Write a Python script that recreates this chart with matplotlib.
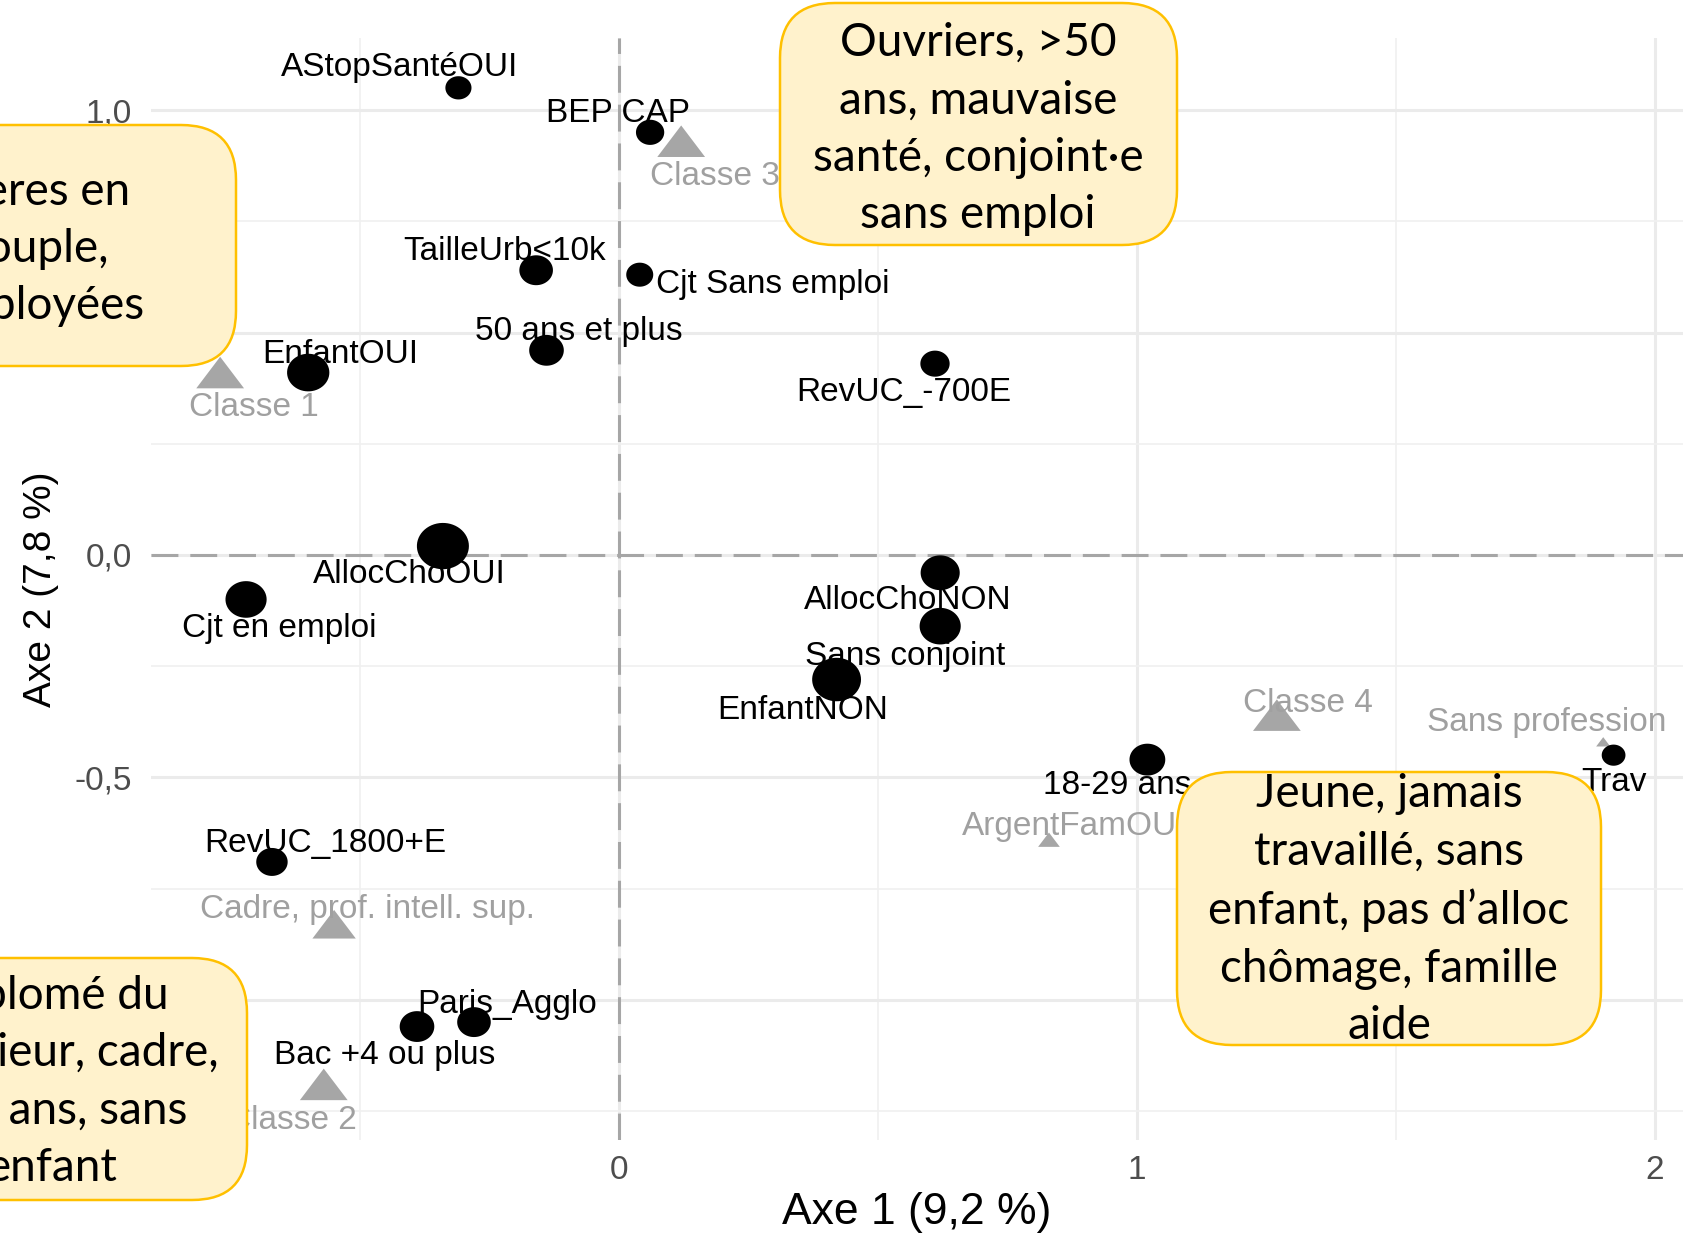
import matplotlib
matplotlib.use("Agg")
import numpy as np
import matplotlib.pyplot as plt
from matplotlib.patches import FancyBboxPatch
from matplotlib.path import Path
import matplotlib.ticker as mticker

# modalités actives (points noirs)
mod_noms = ["AStopSantéOUI", "BEP CAP", "TailleUrb<10k", "Cjt Sans emploi", "50 ans et plus",
            "EnfantOUI", "RevUC_-700E", "AllocChoOUI", "Cjt en emploi", "AllocChoNON",
            "Sans conjoint", "EnfantNON", "18-29 ans", "Trav", "RevUC_1800+E",
            "Paris_Agglo", "Bac +4 ou plus"]
mod_axe1 = [-0.31, 0.06, -0.16, 0.04, -0.14, -0.60, 0.61, -0.34, -0.72, 0.62,
            0.62, 0.42, 1.02, 1.92, -0.67, -0.28, -0.39]
mod_axe2 = [1.05, 0.95, 0.64, 0.63, 0.46, 0.41, 0.43, 0.02, -0.10, -0.04,
            -0.16, -0.28, -0.46, -0.45, -0.69, -1.05, -1.06]
mod_effectif = [58, 68, 96, 62, 102, 152, 73, 230, 144, 130, 144, 203, 109, 48, 84, 96, 102]

# modalités supplémentaires (triangles gris)
sup_noms = ["Classe 1", "Classe 2", "Classe 3", "Classe 4", "Cadre, prof. intell. sup.",
            "Sans profession", "ArgentFamOUI"]
sup_axe1 = [-0.77, -0.57, 0.12, 1.27, -0.55, 1.90, 0.83]
sup_axe2 = [0.41, -1.19, 0.93, -0.36, -0.83, -0.42, -0.64]
sup_effectif = [194, 194, 194, 194, 160, 17, 40]

# encadrés
encadres = ["Ouvriers, >50\nans, mauvaise\nsanté, conjoint·e\nsans emploi",
            "Mères en\ncouple,\nemployées",
            "Diplomé du\nsupérieur, cadre,\n<35 ans, sans\nenfant",
            "Jeune, jamais\ntravaillé, sans\nenfant, pas d’alloc\nchômage, famille\naide"]

# décalage des étiquettes (points)
k = 0.78
mod_dx = [-54, -30, -29, 123, 30, 30, -29, -31, 31, -30, -32, -31, -28, 0, 49, 31, -30]
mod_dy = [-19, -17, -17, 9, -17, -17, 27, 26, 27, 26, 28, 29, 24, 25, -17, -16, 27]
sup_dx = [31, -29, 31, 29, 31, -52, 23]
sup_dy = [32, 33, 33, -11, -14, -18, -12]

gris = "#A6A6A6"
W, H = 1696, 1239
fig = plt.figure(figsize=(W / 100, H / 100), dpi=100)
ax = fig.add_axes([151 / W, (H - 1140) / H, (1683 - 151) / W, (1140 - 38) / H])
ax.set_xlim(-0.9035, 2.054)
ax.set_ylim(-1.315, 1.162)

for s in ax.spines.values():
    s.set_visible(False)
ax.xaxis.set_major_locator(mticker.FixedLocator([0, 1, 2]))
ax.xaxis.set_minor_locator(mticker.FixedLocator([-0.5, 0.5, 1.5]))
ax.yaxis.set_major_locator(mticker.FixedLocator([-1.0, -0.5, 0.0, 0.5, 1.0]))
ax.yaxis.set_minor_locator(mticker.FixedLocator([-1.25, -0.75, -0.25, 0.25, 0.75]))
ax.xaxis.set_major_formatter(mticker.FuncFormatter(lambda v, p: f"{v:.0f}"))
ax.yaxis.set_major_formatter(mticker.FuncFormatter(lambda v, p: f"{v:.1f}".replace(".", ",")))
ax.tick_params(which="both", length=0, labelsize=24, labelcolor="#4D4D4D")
ax.tick_params(axis="y", pad=14)
ax.tick_params(axis="x", pad=11)
for t in ax.get_xticklabels() + ax.get_yticklabels():
    t.set_fontfamily("Liberation Sans")
ax.grid(which="major", color="#EBEBEB", lw=2.2)
ax.grid(which="minor", color="#F0F0F0", lw=1.2)
ax.set_axisbelow(True)

ax.axhline(0, color=gris, lw=2.2, ls=(0, (8.8, 3.9)), zorder=1)
ax.axvline(0, color=gris, lw=2.2, ls=(0, (8.8, 3.9)), zorder=1)

t = np.linspace(0, 2 * np.pi, 60)
rond = Path(np.column_stack([np.cos(t), 0.89 * np.sin(t)]))
tri = Path([(-1, -0.66), (1, -0.66), (0, 0.66), (-1, -0.66)], closed=True)

ax.scatter(sup_axe1, sup_axe2, s=np.array(sup_effectif) * 6.1, marker=tri,
           color=gris, lw=0, zorder=3)
ax.scatter(mod_axe1, mod_axe2, s=np.array(mod_effectif) * 6.1, marker=rond,
           color="black", lw=0, zorder=4)

for nom, x, y, dx, dy in zip(sup_noms, sup_axe1, sup_axe2, sup_dx, sup_dy):
    ax.annotate(nom, (x, y), xytext=(dx * k, -dy * k), textcoords="offset points",
                ha="center", va="center", fontsize=24, color="#A0A0A0",
                family="Liberation Sans", zorder=5)
for nom, x, y, dx, dy in zip(mod_noms, mod_axe1, mod_axe2, mod_dx, mod_dy):
    ax.annotate(nom, (x, y), xytext=(dx * k, -dy * k), textcoords="offset points",
                ha="center", va="center", fontsize=24, color="black",
                family="Liberation Sans", zorder=6)

ax.text(0.5, -0.066, "Axe 1 (9,2 %)", transform=ax.transAxes, ha="center",
        va="center", fontsize=32, family="Liberation Sans")
ax.text(-0.072, 0.5, "Axe 2 (7,8 %)", transform=ax.transAxes, ha="center",
        va="center", rotation=90, fontsize=28, family="Liberation Sans")

# encadrés (coordonnées en pixels depuis le haut à gauche)
boites = [(780, 3, 1177, 245, 978, 129),
          (-200, 125, 236, 366, 36, 249),
          (-200, 958, 247, 1200, 52, 1082),
          (1177, 772, 1601, 1045, 1389, 910)]
for txt, (x0, y0, x1, y1, cx, cy) in zip(encadres, boites):
    p = FancyBboxPatch((x0 / 100, (H - y1) / 100), (x1 - x0) / 100, (y1 - y0) / 100,
                       boxstyle="round,pad=0,rounding_size=0.55",
                       transform=fig.dpi_scale_trans, facecolor="#FFF2CC",
                       edgecolor="#FFC000", lw=1.8, zorder=10)
    fig.add_artist(p)
    fig.text(cx / 100, (H - cy) / 100, txt, transform=fig.dpi_scale_trans,
             ha="center", va="center", fontsize=33, family="Lato",
             linespacing=1.45, zorder=11)

fig.savefig("out.png", dpi=100)
